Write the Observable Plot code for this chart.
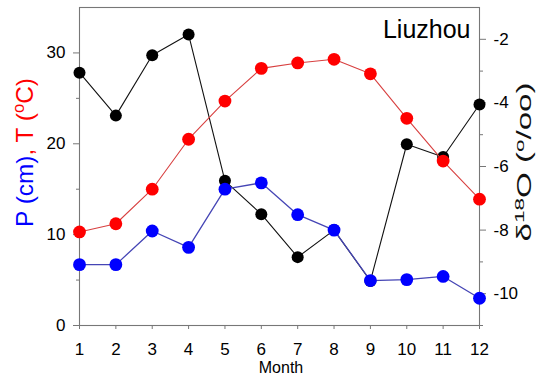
<!DOCTYPE html>
<html><head><meta charset="utf-8">
<script src="https://cdn.jsdelivr.net/npm/d3@7"></script>
<script src="https://cdn.jsdelivr.net/npm/@observablehq/plot@0.6"></script>
<style>body{margin:0;background:#fff;overflow:hidden;}</style>
</head><body><div id="chart"></div>
<script>
const months = [1,2,3,4,5,6,7,8,9,10,11,12];
const precip = [6.7,6.7,10.4,8.6,15.0,15.7,12.2,10.5,4.95,5.05,5.4,3.0];
const temp = [10.3,11.2,15.0,20.5,24.7,28.3,28.9,29.3,27.7,22.8,18.1,13.9];
const d18O = [-3.05,-4.4,-2.5,-1.85,-6.45,-7.5,-8.85,-8.0,-9.6,-5.3,-5.7,-4.05];
const leftTicks = [0,10,20,30];
const leftMinor = [5,15,25];
const rightTicks = [-2,-4,-6,-8,-10];
const rightMinor = [-3,-5,-7,-9,-11];
const leftDomain = [0,35];
const rightDomain = [-11,-1];
const toLeft = d => (d - rightDomain[0]) / (rightDomain[1]-rightDomain[0]) * (leftDomain[1]-leftDomain[0]) + leftDomain[0];
const fromLeft = v => (v - leftDomain[0]) / (leftDomain[1]-leftDomain[0]) * (rightDomain[1]-rightDomain[0]) + rightDomain[0];

const FONT = "Liberation Sans, Arial, Helvetica, sans-serif";
const axisGrey = "#777";

const plot = Plot.plot({
  width: 537, height: 377,
  marginLeft: 79, marginRight: 58, marginTop: 7, marginBottom: 52,
  style: {fontFamily: FONT, fontSize: "17px", background: "white", color: "black", overflow: "visible"},
  x: {domain: [1,12], label: null},
  y: {domain: leftDomain, label: null},
  marks: [
    Plot.frame({stroke: axisGrey, strokeWidth: 1.1}),
    Plot.axisX(months, {tickSize: 4, tickPadding: 13, stroke: axisGrey, label: null, tickFormat: d => String(d)}),
    Plot.axisY(leftTicks, {anchor: "left", tickSize: 6, tickPadding: 8, stroke: axisGrey, label: null, tickFormat: d => String(d)}),
    Plot.axisY(leftMinor, {anchor: "left", tickSize: 3, stroke: axisGrey, label: null, tickFormat: () => ""}),
    Plot.axisY(rightTicks.map(toLeft), {anchor: "right", tickSize: 6, tickPadding: 8, stroke: axisGrey, label: null, tickFormat: v => String(Math.round(fromLeft(v)))}),
    Plot.axisY(rightMinor.map(toLeft), {anchor: "right", tickSize: 3, stroke: axisGrey, label: null, tickFormat: () => ""}),
    Plot.line(months, {x: d => d, y: (d, i) => toLeft(d18O[i]), stroke: "#111", strokeWidth: 1.1}),
    Plot.dot(months, {x: d => d, y: (d, i) => toLeft(d18O[i]), r: 6, fill: "black", stroke: "none"}),
    Plot.line(months, {x: d => d, y: (d, i) => temp[i], stroke: "#d84040", strokeWidth: 1.1}),
    Plot.dot(months, {x: d => d, y: (d, i) => temp[i], r: 6.4, fill: "#ff0000", stroke: "none"}),
    Plot.line(months, {x: d => d, y: (d, i) => precip[i], stroke: "#4545b5", strokeWidth: 1.3}),
    Plot.dot(months, {x: d => d, y: (d, i) => precip[i], r: 6.4, fill: "#0000ff", stroke: "none"}),
    Plot.text(["Liuzhou"], {frameAnchor: "top-right", textAnchor: "end", lineAnchor: "top", dx: -9, dy: 13, fontSize: 25, fill: "black"})
  ]
});
document.getElementById("chart").appendChild(plot);

const svg = d3.select(plot);

// x axis title
svg.append("text").attr("x", 281).attr("y", 373).attr("text-anchor", "middle")
  .attr("font-family", FONT).attr("font-size", 16).attr("fill", "black").text("Month");

function rotatedLabel(x, cy, size, targetLen, parts) {
  const t = svg.append("text").attr("font-family", FONT).attr("font-size", size)
    .attr("text-anchor", "middle");
  for (const p of parts) {
    const s = t.append("tspan").attr("fill", p.color).text(p.text);
    if (p.sup) s.attr("baseline-shift", "super").attr("font-size", size * 0.68);
  }
  const len = t.node().getComputedTextLength();
  const k = targetLen / len;
  t.attr("transform", `translate(${x},${cy}) rotate(-90) scale(${k},1)`);
}
rotatedLabel(33, 152.5, 23, 149, [
  {text: "P (cm)", color: "#0000ff"},
  {text: ", T (", color: "#ff0000"},
  {text: "o", color: "#ff0000", sup: true},
  {text: "C)", color: "#ff0000"}
]);
rotatedLabel(531, 162, 20, 159, [
  {text: "δ", color: "#111"},
  {text: "18", color: "#111", sup: true},
  {text: "O (", color: "#111"},
  {text: "o", color: "#111", sup: true},
  {text: "/oo)", color: "#111"}
]);
</script>
</body></html>
